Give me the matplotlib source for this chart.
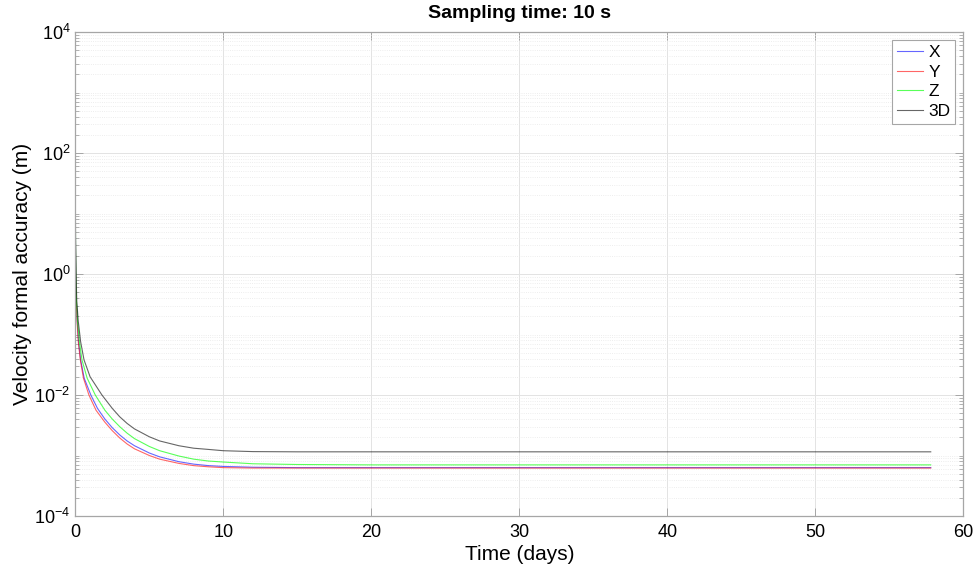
import numpy as np
import matplotlib
matplotlib.use("Agg")
import matplotlib.pyplot as plt
from matplotlib.ticker import LogLocator, NullFormatter, FixedLocator

plt.rcParams['font.family'] = ['Liberation Sans', 'DejaVu Sans']
plt.rcParams['mathtext.fontset'] = 'custom'
plt.rcParams['mathtext.rm'] = 'Liberation Sans'
plt.rcParams['mathtext.it'] = 'Liberation Sans'

# 读数：时间(天)与速度形式精度(m)
t_x = [0, 0.02, 0.035, 0.07, 0.13, 0.22, 0.36, 0.6, 1.05, 1.5, 2.0, 2.5, 3.0, 3.5, 4, 5, 5.7,
       7, 8, 9, 10, 12, 15, 20, 30, 40, 50, 57.8]
v_x = [8.9, 2.0, 1.0, 0.355, 0.166, 0.076, 0.038, 0.019, 0.01, 0.006, 0.004, 0.00288, 0.00219,
       0.00174, 0.00145, 0.0011, 0.00095, 0.00079, 0.00072, 0.00068, 0.00066, 0.00064, 0.00063,
       0.00063, 0.00063, 0.00063, 0.00063, 0.00063]

t_y = [0, 0.02, 0.03, 0.06, 0.12, 0.2, 0.34, 0.55, 0.92, 1.4, 2.0, 2.5, 3.0, 3.5, 4, 5, 5.7,
       7, 8, 9, 10, 12, 15, 20, 30, 40, 50, 57.8]
v_y = [7.9, 1.8, 1.0, 0.355, 0.166, 0.076, 0.038, 0.019, 0.01, 0.0056, 0.00355, 0.00257, 0.00195,
       0.00155, 0.00129, 0.001, 0.00087, 0.00074, 0.00068, 0.00065, 0.00063, 0.00062, 0.00062,
       0.00062, 0.00062, 0.00062, 0.00062, 0.00062]

t_z = [0, 0.02, 0.04, 0.08, 0.15, 0.28, 0.45, 0.8, 1.35, 2.0, 2.5, 3.0, 3.5, 4, 5, 5.7,
       7, 8, 9, 10, 12, 15, 20, 30, 40, 50, 57.8]
v_z = [12.6, 2.5, 1.0, 0.355, 0.166, 0.076, 0.038, 0.019, 0.01, 0.0056, 0.004, 0.003, 0.00234,
       0.0019, 0.00141, 0.0012, 0.00098, 0.00087, 0.00081, 0.00078, 0.00073, 0.00071, 0.0007,
       0.0007, 0.0007, 0.0007, 0.0007]

t_3d = [0, 0.02, 0.05, 0.1, 0.2, 0.36, 0.59, 1.0, 1.8, 2.5, 3.0, 3.5, 4, 5, 5.7,
        7, 8, 9, 10, 12, 15, 20, 30, 40, 50, 57.8]
v_3d = [20, 3.2, 1.0, 0.355, 0.166, 0.076, 0.038, 0.02, 0.01, 0.006, 0.00437, 0.00339, 0.00275,
        0.00204, 0.00174, 0.00145, 0.00132, 0.00126, 0.0012, 0.00116, 0.00115, 0.00115, 0.00115,
        0.00115, 0.00115, 0.00115]

W, H = 974, 577
fig = plt.figure(figsize=(W / 100, H / 100), dpi=100)
ax = fig.add_axes([75.3 / W, (H - 516) / H, (963.3 - 75.3) / W, (516 - 32) / H])

ax.plot(t_x, v_x, color='#0000ff', lw=0.8, alpha=0.6, label='X')
ax.plot(t_y, v_y, color='#ff0000', lw=0.8, alpha=0.6, label='Y')
ax.plot(t_z, v_z, color='#00ff00', lw=0.8, alpha=0.65, label='Z')
ax.plot(t_3d, v_3d, color='#000000', lw=0.8, alpha=0.6, label='3D')

ax.set_yscale('log')
ax.set_xlim(0, 60)
ax.set_ylim(1e-4, 1e4)
ax.set_xticks(np.arange(0, 61, 10))
ax.yaxis.set_major_locator(FixedLocator([1e-4, 1e-2, 1e0, 1e2, 1e4]))
ax.yaxis.set_minor_locator(LogLocator(base=10, subs=np.arange(1, 10), numticks=20))
ax.yaxis.set_minor_formatter(NullFormatter())

ax.grid(True, which='major', color='#e3e3e3', lw=0.7, ls='-')
ax.grid(True, which='minor', axis='y', color='#e8e8e8', lw=0.6, ls=':')
ax.set_axisbelow(True)

for s in ax.spines.values():
    s.set_color('#a6a6a6')
    s.set_linewidth(0.9)
ax.tick_params(which='both', direction='in', top=True, right=True, color='#a6a6a6',
               labelsize=13, labelcolor='black')
ax.tick_params(which='major', length=6, width=0.7)
ax.tick_params(which='minor', length=3, width=0.6)
ax.tick_params(axis='x', pad=6)

ax.set_xlabel('Time (days)', fontsize=15, labelpad=3)
ax.set_ylabel('Velocity formal accuracy (m)', fontsize=15, labelpad=2)
ax.set_title('Sampling time: 10 s', fontsize=14, fontweight='bold', pad=10)

leg = ax.legend(loc='upper right', fontsize=12.5, handlelength=1.5, handletextpad=0.3,
                labelspacing=0.25, borderpad=0.3, borderaxespad=0.45,
                fancybox=False, framealpha=1, edgecolor='#a6a6a6')
leg.get_frame().set_linewidth(0.8)

fig.savefig('out.png', dpi=100)
